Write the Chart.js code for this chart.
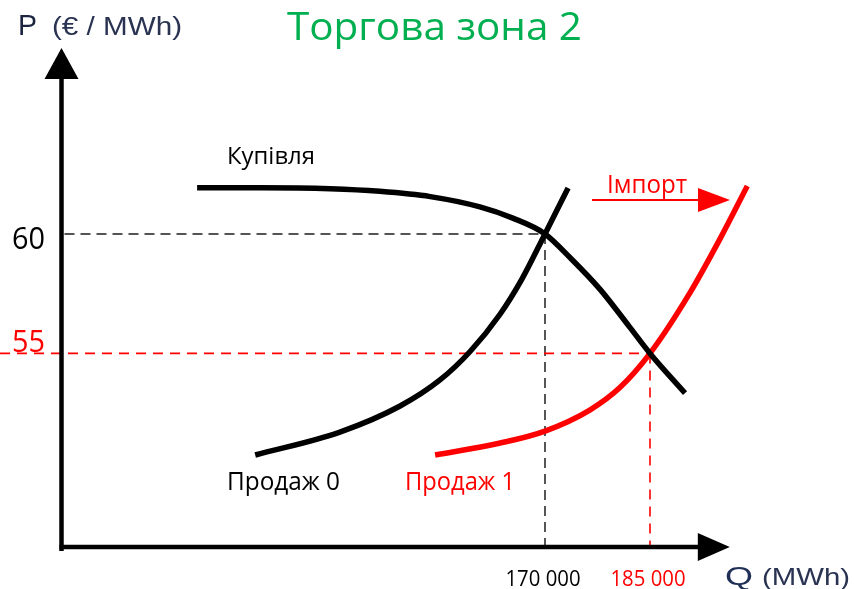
<!DOCTYPE html>
<html>
<head>
<meta charset="utf-8">
<script src="https://cdn.jsdelivr.net/npm/chart.js@4"></script>
<style>
  html, body { margin: 0; padding: 0; background: #ffffff; }
  #wrap { width: 854px; height: 589px; }
</style>
</head>
<body>
<div id="wrap"><canvas id="c" width="854" height="589"></canvas></div>
<script>
// ---- Data (Q in MWh, P in €/MWh) ----
const demandQ  = [120300, 129300, 139300, 146400, 153600, 160700, 165400, 170000, 173600, 177900, 182100, 185000, 190000];
const demandP  = [61.93, 61.93, 61.89, 61.78, 61.56, 61.13, 60.66, 60.00, 59.00, 57.67, 56.10, 55.00, 53.34];

const supply0Q = [128600, 140700, 149300, 155000, 159300, 163600, 166700, 170000, 173300];
const supply0P = [50.75, 51.71, 52.80, 53.89, 55.08, 56.65, 58.11, 60.00, 61.92];

const supply1Q = [154300, 163600, 170000, 176400, 180700, 185000, 190700, 195000, 198900];
const supply1P = [50.75, 51.25, 51.75, 52.63, 53.57, 55.00, 57.53, 59.79, 62.00];

const priceTicks    = [60, 55];
const quantityTicks = [170000, 185000];
const tickColors    = ['#000000', '#ff0000'];

const seriesLabels = ['Купівля', 'Продаж 0', 'Продаж 1'];
const titleText = 'Торгова зона 2';

const toPts = (xs, ys) => xs.map((x, i) => ({ x: x, y: ys[i] }));
const fmtQ = v => String(v).replace(/\B(?=(\d{3})+(?!\d))/g, ' ');

function fitText(ctx, text, x, base, width, font, color, align) {
  ctx.save();
  ctx.font = font;
  ctx.fillStyle = color;
  ctx.textBaseline = 'alphabetic';
  ctx.textAlign = 'left';
  const w = ctx.measureText(text).width;
  const sx = width / w;
  let left = x;
  if (align === 'center') left = x - width / 2;
  ctx.translate(left, base);
  ctx.scale(sx, 1);
  ctx.fillText(text, 0, 0);
  ctx.restore();
}

const overlay = {
  id: 'overlay',
  beforeDatasetsDraw(chart) {
    const ctx = chart.ctx;
    const xs = chart.scales.x, ys = chart.scales.y;
    const area = chart.chartArea;
    const bottom = area.bottom;
    const axisX = area.left - 0.5;
    ctx.save();
    priceTicks.forEach((p, i) => {
      const q = quantityTicks[i];
      const px = xs.getPixelForValue(q), py = ys.getPixelForValue(p);
      const red = i === 1;
      ctx.strokeStyle = red ? '#ff0000' : '#555555';
      ctx.lineWidth = red ? 1.6 : 2;
      ctx.setLineDash(red ? [10, 7] : [10, 6]);
      ctx.beginPath();
      ctx.moveTo(red ? 0 : axisX + 3, py);
      ctx.lineTo(px, py);
      ctx.stroke();
      ctx.beginPath();
      ctx.moveTo(px, py);
      ctx.lineTo(px, bottom);
      ctx.stroke();
    });
    ctx.setLineDash([]);
    ctx.restore();
  },
  afterDatasetsDraw(chart) {
    const ctx = chart.ctx;
    const xs = chart.scales.x, ys = chart.scales.y;
    const area = chart.chartArea;
    const bottom = area.bottom;
    const axisX = area.left - 0.5;
    ctx.save();
    ctx.strokeStyle = '#000';
    ctx.fillStyle = '#000';
    ctx.lineWidth = 4.5;
    ctx.lineCap = 'butt';
    const yTip = area.top + 1;
    const xTip = xs.getPixelForValue(196400);
    ctx.beginPath();
    ctx.moveTo(axisX, bottom + 4);
    ctx.lineTo(axisX, yTip + 28);
    ctx.stroke();
    ctx.beginPath();
    ctx.moveTo(axisX, yTip);
    ctx.lineTo(axisX - 17, yTip + 31);
    ctx.lineTo(axisX + 17, yTip + 31);
    ctx.closePath();
    ctx.fill();
    ctx.beginPath();
    ctx.moveTo(axisX - 2, bottom);
    ctx.lineTo(xTip - 30, bottom);
    ctx.stroke();
    ctx.beginPath();
    ctx.moveTo(xTip, bottom);
    ctx.lineTo(xTip - 32, bottom - 14);
    ctx.lineTo(xTip - 32, bottom + 14);
    ctx.closePath();
    ctx.fill();

    // import arrow
    ctx.strokeStyle = '#ff0000';
    ctx.fillStyle = '#ff0000';
    ctx.lineWidth = 2;
    ctx.beginPath();
    ctx.moveTo(592, 200);
    ctx.lineTo(700, 200);
    ctx.stroke();
    ctx.beginPath();
    ctx.moveTo(730, 200);
    ctx.lineTo(698, 188);
    ctx.lineTo(698, 212);
    ctx.closePath();
    ctx.fill();
    ctx.restore();

    const sans = '"Open Sans", "Noto Sans", sans-serif';
    const arial = '"Liberation Sans", Arial, sans-serif';
    fitText(ctx, titleText, 287, 40, 295, '39px ' + sans, '#00b050');
    fitText(ctx, 'P', 18, 35, 19, '29px ' + arial, '#1c2540');
    fitText(ctx, '(€ / MWh)', 52, 35, 130, '25px ' + arial, '#2a3452');
    fitText(ctx, 'Q', 725, 585, 28, '26px ' + arial, '#1f2f55');
    fitText(ctx, '(MWh)', 762, 585, 88, '24px ' + arial, '#2a3452');
    priceTicks.forEach((p, i) => {
      const py = ys.getPixelForValue(p);
      const base = i === 0 ? py + 15.5 : py - 1;
      fitText(ctx, String(p), 12, base, 33, '31px ' + sans, tickColors[i]);
    });
    quantityTicks.forEach((q, i) => {
      const px = xs.getPixelForValue(q);
      fitText(ctx, fmtQ(q), px - 2, 586, 75, '22px ' + sans, tickColors[i], 'center');
    });
    fitText(ctx, seriesLabels[0], 227, 164, 88, '23px ' + sans, '#000000');
    fitText(ctx, seriesLabels[1], 227, 490, 113, '25px ' + sans, '#000000');
    fitText(ctx, seriesLabels[2], 405, 490, 110, '25px ' + sans, '#ff0000');
    fitText(ctx, 'Імпорт', 607, 193, 80, '25px ' + sans, '#ff0000');
  }
};

new Chart(document.getElementById('c'), {
  type: 'line',
  data: {
    datasets: [
      { label: seriesLabels[0], data: toPts(demandQ, demandP), borderColor: '#000000' },
      { label: seriesLabels[1], data: toPts(supply0Q, supply0P), borderColor: '#000000' },
      { label: seriesLabels[2], data: toPts(supply1Q, supply1P), borderColor: '#ff0000' }
    ]
  },
  options: {
    responsive: false,
    animation: false,
    layout: { padding: { left: 62, right: 92, top: 47, bottom: 42 } },
    datasets: {
      line: {
        borderWidth: 5.5,
        pointRadius: 0,
        fill: false,
        cubicInterpolationMode: 'monotone',
        clip: false,
        borderCapStyle: 'butt'
      }
    },
    scales: {
      x: { type: 'linear', min: 101000, max: 201000, display: false },
      y: { type: 'linear', min: 46.9, max: 67.82, display: false }
    },
    plugins: { legend: { display: false }, tooltip: { enabled: false }, title: { display: false } }
  },
  plugins: [overlay]
});
</script>
</body>
</html>
